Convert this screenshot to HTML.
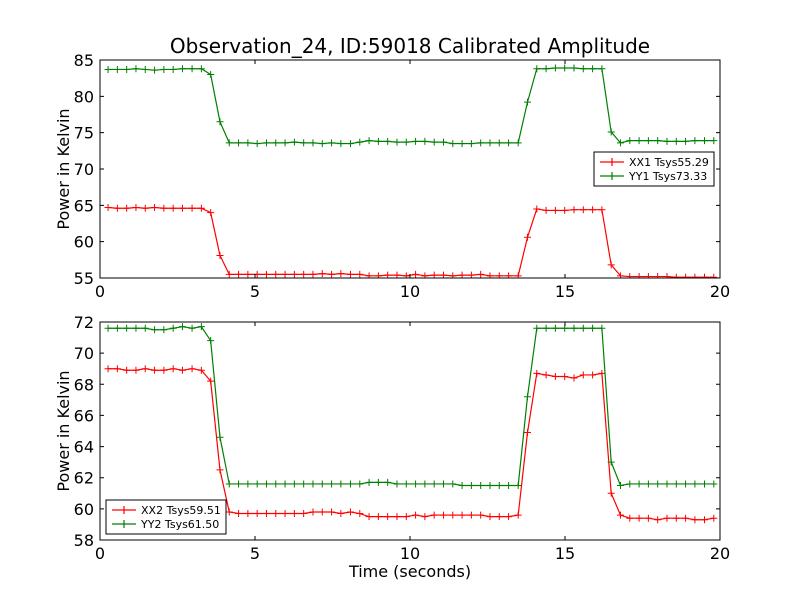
<!DOCTYPE html>
<html><head><meta charset="utf-8"><style>
body{margin:0;background:#fff;font-family:"Liberation Sans","DejaVu Sans",sans-serif}
svg text{font-family:"DejaVu Sans","Liberation Sans",sans-serif}
</style></head><body>
<svg id="c" width="800" height="600" xmlns="http://www.w3.org/2000/svg"></svg>
<script>
const times=[0.26,0.56,0.86,1.16,1.46,1.76,2.06,2.36,2.66,2.97,3.27,3.57,3.87,4.17,4.47,4.77,5.07,5.37,5.67,5.97,6.27,6.57,6.87,7.17,7.47,7.77,8.08,8.38,8.68,8.98,9.28,9.58,9.88,10.18,10.48,10.78,11.08,11.38,11.68,11.98,12.28,12.58,12.88,13.18,13.49,13.79,14.09,14.39,14.69,14.99,15.29,15.59,15.89,16.19,16.49,16.79,17.09,17.39,17.69,17.99,18.29,18.59,18.89,19.19,19.50,19.80];
const xx1=[64.7,64.6,64.6,64.7,64.6,64.7,64.6,64.6,64.6,64.6,64.6,64.0,58.1,55.5,55.5,55.5,55.5,55.5,55.5,55.5,55.5,55.5,55.5,55.6,55.5,55.6,55.5,55.5,55.3,55.3,55.4,55.4,55.3,55.5,55.3,55.4,55.4,55.3,55.4,55.4,55.5,55.3,55.3,55.3,55.3,60.6,64.5,64.3,64.3,64.3,64.4,64.4,64.4,64.4,56.8,55.3,55.2,55.2,55.2,55.2,55.2,55.1,55.1,55.1,55.1,55.1];
const yy1=[83.7,83.7,83.7,83.8,83.7,83.6,83.7,83.7,83.8,83.8,83.8,83.0,76.5,73.6,73.6,73.6,73.5,73.6,73.6,73.6,73.7,73.6,73.6,73.5,73.6,73.5,73.5,73.7,73.9,73.8,73.8,73.7,73.7,73.8,73.8,73.7,73.7,73.5,73.5,73.5,73.6,73.6,73.6,73.6,73.6,79.2,83.8,83.8,83.9,83.9,83.9,83.8,83.8,83.8,75.1,73.6,73.9,73.9,73.9,73.9,73.8,73.8,73.8,73.9,73.9,73.9];
const xx2=[69.0,69.0,68.9,68.9,69.0,68.9,68.9,69.0,68.9,69.0,68.9,68.2,62.5,59.8,59.7,59.7,59.7,59.7,59.7,59.7,59.7,59.7,59.8,59.8,59.8,59.7,59.8,59.7,59.5,59.5,59.5,59.5,59.5,59.6,59.5,59.6,59.6,59.6,59.6,59.6,59.6,59.5,59.5,59.5,59.6,64.9,68.7,68.6,68.5,68.5,68.4,68.6,68.6,68.7,61.0,59.6,59.4,59.4,59.4,59.3,59.4,59.4,59.4,59.3,59.3,59.4];
const yy2=[71.6,71.6,71.6,71.6,71.6,71.5,71.5,71.6,71.7,71.6,71.7,70.8,64.6,61.6,61.6,61.6,61.6,61.6,61.6,61.6,61.6,61.6,61.6,61.6,61.6,61.6,61.6,61.6,61.7,61.7,61.7,61.6,61.6,61.6,61.6,61.6,61.6,61.6,61.5,61.5,61.5,61.5,61.5,61.5,61.5,67.2,71.6,71.6,71.6,71.6,71.6,71.6,71.6,71.6,63.0,61.5,61.6,61.6,61.6,61.6,61.6,61.6,61.6,61.6,61.6,61.6];
const xTicks=[0,5,10,15,20];
const topTicks=[55,60,65,70,75,80,85];
const botTicks=[58,60,62,64,66,68,70,72];
const svg=document.getElementById('c');
const NS='http://www.w3.org/2000/svg';
function mk(tag,attrs,parent){const e=document.createElementNS(NS,tag);for(const k in attrs)e.setAttribute(k,attrs[k]);(parent||svg).appendChild(e);return e;}
const X0=100,X1=720;
function sx(v){return X0+(v-0)/(20-0)*(X1-X0);}
function panel(name,top,bot,ymin,ymax,yt,s1,s2,lab1,lab2,legBox){
  const g=mk('g',{});
  
  
  const sy=v=>bot-(v-ymin)/(ymax-ymin)*(bot-top);
  const clipId=name+'-clip';
  const cp=mk('clipPath',{id:clipId},g);mk('rect',{x:X0,y:top,width:X1-X0,height:bot-top},cp);
  [[s1,'#ff0000',lab1],[s2,'#008000',lab2]].forEach(([s,col,lab])=>{
    const sg=mk('g',{'clip-path':'url(#'+clipId+')'},g);
    
    
    mk('polyline',{points:times.map((t,i)=>sx(t)+','+sy(s[i])).join(' '),fill:'none',stroke:col,'stroke-width':1.2},sg);
    times.forEach((t,i)=>{const x=sx(t),y=sy(s[i]);
      mk('path',{d:`M${x-3.5} ${y}H${x+3.5}M${x} ${y-3.5}V${y+3.5}`,stroke:col,'stroke-width':1},sg);});
  });
  mk('rect',{x:X0,y:top,width:X1-X0,height:bot-top,fill:'none',stroke:'#000','stroke-width':1},g);
  xTicks.forEach(v=>{const x=sx(v);
    mk('path',{d:`M${x} ${bot}v-4M${x} ${top}v4`,stroke:'#000'},g);
    const t=mk('text',{x:x,y:bot+19,'text-anchor':'middle','font-size':16},g);t.textContent=v;
    
    });
  yt.forEach(v=>{const y=sy(v);
    mk('path',{d:`M${X0} ${y}h4M${X1} ${y}h-4`,stroke:'#000'},g);
    const t=mk('text',{x:X0-6,y:y+6,'text-anchor':'end','font-size':16},g);t.textContent=v;
    
    });
  const yl=mk('text',{x:63,y:(top+bot)/2+6,'text-anchor':'middle','font-size':16,transform:`rotate(-90 63 ${(top+bot)/2})`},g);
  yl.textContent='Power in Kelvin';
  
  
  const [lx,ly,lw,lh]=legBox;
  const lg=mk('g',{},g);
  
  
  mk('rect',{x:lx,y:ly,width:lw,height:lh,fill:'#fff',stroke:'#000'},lg);
  [[lab1,'#ff0000'],[lab2,'#008000']].forEach(([lab,col],k)=>{
    const yy=ly+10+k*14;
    mk('path',{d:`M${lx+6} ${yy}h24M${lx+18} ${yy-4}v8`,stroke:col,'stroke-width':1.2},lg);
    const t=mk('text',{x:lx+35,y:yy+4,'font-size':11},lg);t.textContent=lab;
    
    
  });
}
const title=mk('text',{x:410,y:53,'text-anchor':'middle','font-size':20});
title.textContent='Observation_24, ID:59018 Calibrated Amplitude';


panel('top-panel',60,278,55,85,topTicks,xx1,yy1,'XX1 Tsys55.29','YY1 Tsys73.33',[594,152,120,34]);
panel('bottom-panel',322,540,58,72,botTicks,xx2,yy2,'XX2 Tsys59.51','YY2 Tsys61.50',[106,500,120,34]);
const xl=mk('text',{x:410,y:577,'text-anchor':'middle','font-size':16});
xl.textContent='Time (seconds)';


</script>
</body></html>
